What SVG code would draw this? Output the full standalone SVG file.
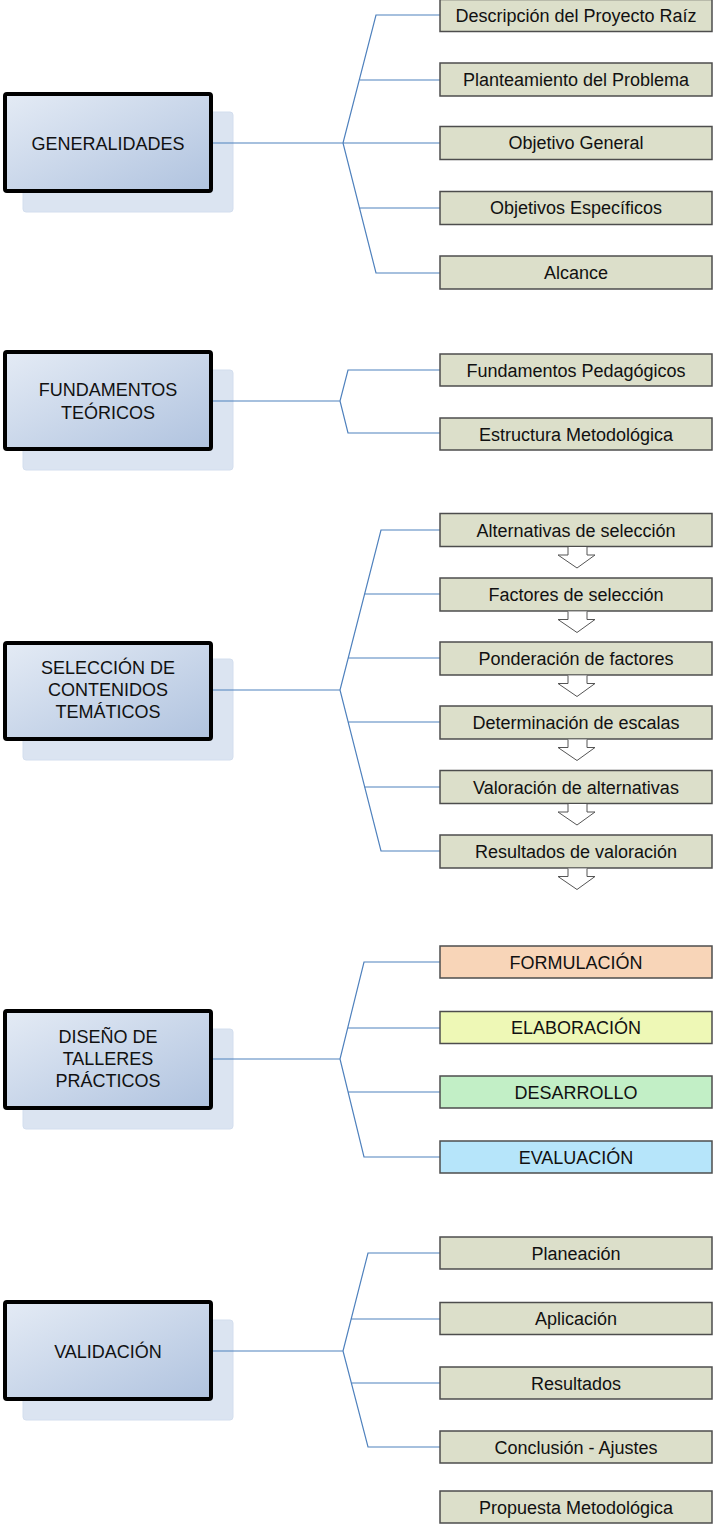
<svg xmlns="http://www.w3.org/2000/svg" width="713" height="1525" viewBox="0 0 713 1525">
<defs>
<linearGradient id="mg" x1="0" y1="0" x2="1" y2="1">
<stop offset="0" stop-color="#e4ebf5"/>
<stop offset="1" stop-color="#b0c3df"/>
</linearGradient>
</defs>
<style>
.sh{fill:#dbe4f1;stroke:#d3deee;stroke-width:1}
.mb{fill:url(#mg);stroke:#000;stroke-width:4}
.mt{font-family:"Liberation Sans",Arial,sans-serif;font-size:18px;fill:#111;text-anchor:middle}
.rb{fill:#dcdfca;stroke:#4d4d4d;stroke-width:1.5}
.rt{font-family:"Liberation Sans",Arial,sans-serif;font-size:18px;fill:#111;text-anchor:middle}
.cn{fill:none;stroke:#4f81bd;stroke-width:1.2}
.ar{fill:#fff;stroke:#555;stroke-width:1}
</style>

<g id="generalidades">
<rect class="sh" x="23" y="112" width="210" height="100" rx="3"/>
<rect class="mb" x="5" y="94" width="206" height="97" rx="2"/>
<text class="mt" x="108" y="149.5">GENERALIDADES</text>
</g>
<g id="fundamentos">
<rect class="sh" x="23" y="370" width="210" height="100" rx="3"/>
<rect class="mb" x="5" y="352" width="206" height="97" rx="2"/>
<text class="mt" x="108" y="396">FUNDAMENTOS</text>
<text class="mt" x="108" y="419">TEÓRICOS</text>
</g>
<g id="seleccion">
<rect class="sh" x="23" y="659" width="210" height="101" rx="3"/>
<rect class="mb" x="5" y="643" width="206" height="96" rx="2"/>
<text class="mt" x="108" y="674">SELECCIÓN DE</text>
<text class="mt" x="108" y="696">CONTENIDOS</text>
<text class="mt" x="108" y="718">TEMÁTICOS</text>
</g>
<g id="diseno">
<rect class="sh" x="23" y="1029" width="210" height="100" rx="3"/>
<rect class="mb" x="5" y="1011" width="206" height="97" rx="2"/>
<text class="mt" x="108" y="1043">DISEÑO DE</text>
<text class="mt" x="108" y="1065">TALLERES</text>
<text class="mt" x="108" y="1087">PRÁCTICOS</text>
</g>
<g id="validacion">
<rect class="sh" x="23" y="1320" width="210" height="100" rx="3"/>
<rect class="mb" x="5" y="1302" width="206" height="97" rx="2"/>
<text class="mt" x="108" y="1357.5">VALIDACIÓN</text>
</g>

<g id="connectors">
<path class="cn" d="M213,143 H440 M440,15 H376 L343,143 L376,273 H440 M360,80 H440 M360,208 H440"/>
<path class="cn" d="M213,401 H340 M440,370 H348 L340,401 L348,433 H440"/>
<path class="cn" d="M213,690 H340 M440,530 H381 L340,690 L381,851 H440 M364,594 H440 M348,658 H440 M348,722 H440 M364,787 H440"/>
<path class="cn" d="M213,1059 H340 M440,962 H364 L340,1059 L364,1157 H440 M348,1028 H440 M348,1092 H440"/>
<path class="cn" d="M213,1351 H343 M440,1253 H368 L343,1351 L368,1447 H440 M351,1319 H440 M351,1383 H440"/>
</g>

<g id="g-desc"><rect class="rb" x="440" y="-0.5" width="272" height="32"/><text class="rt" x="576" y="22">Descripción del Proyecto Raíz</text></g>
<g id="g-plan"><rect class="rb" x="440" y="63" width="272" height="33"/><text class="rt" x="576" y="85.5">Planteamiento del Problema</text></g>
<g id="g-obj"><rect class="rb" x="440" y="126.5" width="272" height="33"/><text class="rt" x="576" y="149">Objetivo General</text></g>
<g id="g-objesp"><rect class="rb" x="440" y="191.5" width="272" height="33"/><text class="rt" x="576" y="214">Objetivos Específicos</text></g>
<g id="g-alc"><rect class="rb" x="440" y="256" width="272" height="33"/><text class="rt" x="576" y="278.5">Alcance</text></g>

<g id="f-ped"><rect class="rb" x="440" y="354" width="272" height="32"/><text class="rt" x="576" y="376.5">Fundamentos Pedagógicos</text></g>
<g id="f-est"><rect class="rb" x="440" y="418" width="272" height="32"/><text class="rt" x="576" y="440.5">Estructura Metodológica</text></g>

<g id="s-alt"><rect class="rb" x="440" y="513.5" width="272" height="33"/><text class="rt" x="576" y="536.5">Alternativas de selección</text><path class="ar" d="M568,547 V555 H558 L577,568 L595,555 H587 V547"/></g>
<g id="s-fac"><rect class="rb" x="440" y="578" width="272" height="33"/><text class="rt" x="576" y="601">Factores de selección</text><path class="ar" d="M568,611.5 V619.5 H558 L577,632.5 L595,619.5 H587 V611.5"/></g>
<g id="s-pon"><rect class="rb" x="440" y="642" width="272" height="33"/><text class="rt" x="576" y="665">Ponderación de factores</text><path class="ar" d="M568,675.5 V683.5 H558 L577,696.5 L595,683.5 H587 V675.5"/></g>
<g id="s-det"><rect class="rb" x="440" y="706" width="272" height="33"/><text class="rt" x="576" y="729">Determinación de escalas</text><path class="ar" d="M568,739.5 V747.5 H558 L577,760.5 L595,747.5 H587 V739.5"/></g>
<g id="s-val"><rect class="rb" x="440" y="770.5" width="272" height="33"/><text class="rt" x="576" y="793.5">Valoración de alternativas</text><path class="ar" d="M568,804 V812 H558 L577,825 L595,812 H587 V804"/></g>
<g id="s-res"><rect class="rb" x="440" y="835" width="272" height="33"/><text class="rt" x="576" y="858">Resultados de valoración</text><path class="ar" d="M568,868.5 V876.5 H558 L577,889.5 L595,876.5 H587 V868.5"/></g>

<g id="d-for"><rect class="rb" x="440" y="946" width="272" height="32" style="fill:#f8d5b8"/><text class="rt" x="576" y="968.5">FORMULACIÓN</text></g>
<g id="d-ela"><rect class="rb" x="440" y="1011.5" width="272" height="32" style="fill:#eef8b6"/><text class="rt" x="576" y="1034">ELABORACIÓN</text></g>
<g id="d-des"><rect class="rb" x="440" y="1076" width="272" height="32" style="fill:#c2efc6"/><text class="rt" x="576" y="1098.5">DESARROLLO</text></g>
<g id="d-eva"><rect class="rb" x="440" y="1141" width="272" height="32" style="fill:#b6e5fa"/><text class="rt" x="576" y="1163.5">EVALUACIÓN</text></g>

<g id="v-pla"><rect class="rb" x="440" y="1237" width="272" height="32"/><text class="rt" x="576" y="1259.5">Planeación</text></g>
<g id="v-apl"><rect class="rb" x="440" y="1302.5" width="272" height="32"/><text class="rt" x="576" y="1325">Aplicación</text></g>
<g id="v-res"><rect class="rb" x="440" y="1367" width="272" height="32"/><text class="rt" x="576" y="1389.5">Resultados</text></g>
<g id="v-con"><rect class="rb" x="440" y="1431" width="272" height="32"/><text class="rt" x="576" y="1453.5">Conclusión - Ajustes</text></g>
<g id="v-pro"><rect class="rb" x="440" y="1491" width="272" height="32"/><text class="rt" x="576" y="1513.5">Propuesta Metodológica</text></g>
</svg>
